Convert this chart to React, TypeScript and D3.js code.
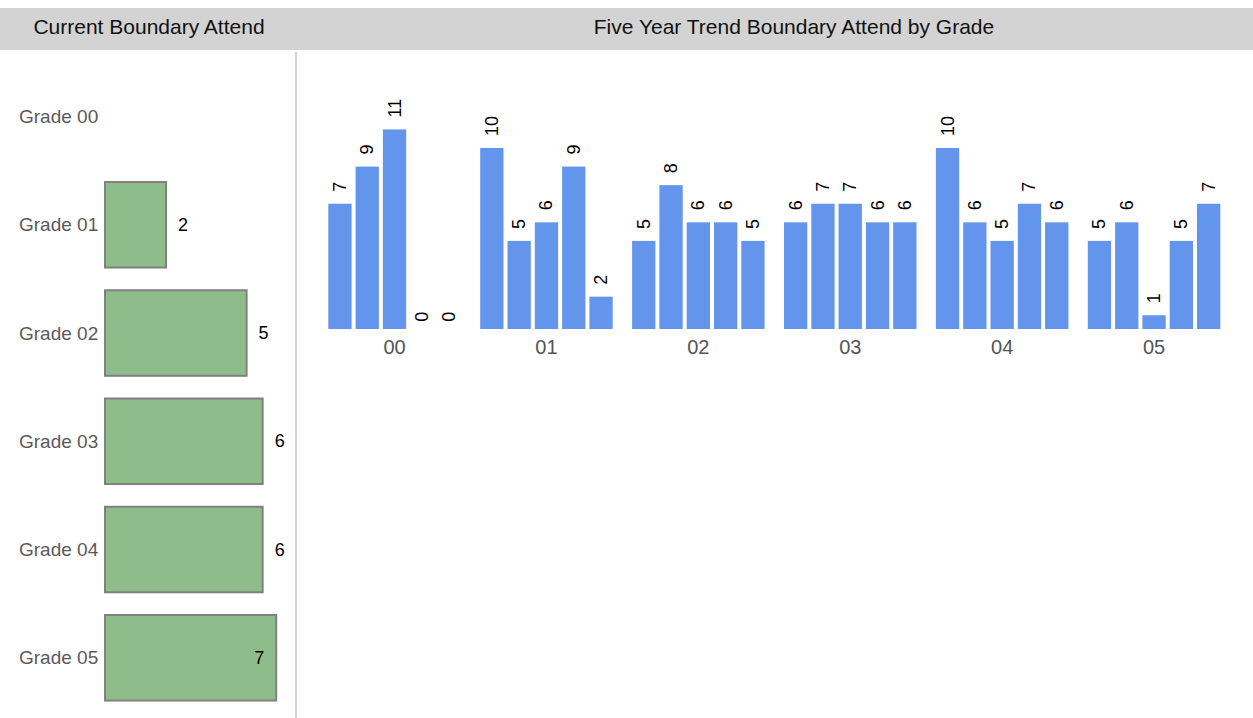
import React from "react";
import * as d3 from "d3";

const grades = ["Grade 00", "Grade 01", "Grade 02", "Grade 03", "Grade 04", "Grade 05"];
const currentValues = [0, 2, 5, 6, 6, 7];

const trendGroups = ["00", "01", "02", "03", "04", "05"];
const trendYears = ["Year 1", "Year 2", "Year 3", "Year 4", "Year 5"];
const trend00 = [7, 9, 11, 0, 0];
const trend01 = [10, 5, 6, 9, 2];
const trend02 = [5, 8, 6, 6, 5];
const trend03 = [6, 7, 7, 6, 6];
const trend04 = [10, 6, 5, 7, 6];
const trend05 = [5, 6, 1, 5, 7];
const trendValues = [trend00, trend01, trend02, trend03, trend04, trend05];

const W = 1253;
const H = 718;
const FONT = "Liberation Sans, Arial, sans-serif";

export default function App() {
  // Left panel scales
  const xLeft = d3.scaleLog().domain([1, 10]).range([105, 105 + 202.6]);
  const yLeft = d3
    .scaleBand<string>()
    .domain(grades)
    .range([62.4, 711.9])
    .paddingInner(0.21)
    .paddingOuter(0.105);

  // Right panel scales
  const x0 = d3.scaleBand<string>().domain(trendGroups).range([328.3, 328.3 + 6 * 151.9]).padding(0);
  const x1 = d3.scaleBand<string>().domain(trendYears).range([0, 132.5]).paddingInner(0.1465).paddingOuter(0);
  const baseY = 329;
  const yRight = d3.scaleLinear().domain([0.26, 11]).range([baseY, 129.4]);

  return (
    <svg
      width={W}
      height={H}
      style={{ position: "absolute", left: 0, top: 0, fontFamily: FONT }}
    >
      <rect x={0} y={0} width={W} height={H} fill="#ffffff" />
      {/* header band */}
      <rect x={0} y={8} width={W} height={42} fill="#d3d3d3" />
      <text x={149} y={26} textAnchor="middle" dominantBaseline="central" fontSize={21} fill="#111">
        Current Boundary Attend
      </text>
      <text x={794} y={26} textAnchor="middle" dominantBaseline="central" fontSize={21} fill="#111">
        Five Year Trend Boundary Attend by Grade
      </text>

      {/* divider */}
      <line x1={296} x2={296} y1={52} y2={H} stroke="#d3d3d3" strokeWidth={2} />

      {/* left panel */}
      {grades.map((g, i) => {
        const v = currentValues[i];
        const yb = yLeft(g)!;
        const bh = yLeft.bandwidth();
        const cy = yb + bh / 2;
        const hasBar = v > 0;
        const xEnd = hasBar ? xLeft(v) : 105;
        const labelW = String(v).length * 10;
        const inside = xEnd + 12 + labelW > 290;
        return (
          <g key={g}>
            <text x={19} y={cy} dominantBaseline="central" fontSize={19} fill="#5a5a5a">
              {g}
            </text>
            {hasBar && (
              <>
                <rect
                  x={xLeft(1)}
                  y={yb}
                  width={xEnd - xLeft(1)}
                  height={bh}
                  fill="#8fbc8b"
                  stroke="#808080"
                  strokeWidth={2}
                />
                <text
                  x={inside ? xEnd - 12 : xEnd + 12}
                  y={cy}
                  textAnchor={inside ? "end" : "start"}
                  dominantBaseline="central"
                  fontSize={18}
                  fill="#000"
                >
                  {v}
                </text>
              </>
            )}
          </g>
        );
      })}

      {/* right panel */}
      {trendGroups.map((grp, gi) => {
        const gx = x0(grp)!;
        return (
          <g key={grp} transform={`translate(${gx},0)`}>
            {trendYears.map((yr, yi) => {
              const v = trendValues[gi][yi];
              const bx = x1(yr)!;
              const bw = x1.bandwidth();
              const top = yRight(v);
              const h = Math.max(0, baseY - top);
              const lx = bx + bw / 2;
              const ly = top - 12;
              return (
                <g key={yr}>
                  {h > 0 && <rect x={bx} y={top} width={bw} height={h} fill="#6495ed" />}
                  <text
                    transform={`translate(${lx},${ly}) rotate(-90)`}
                    textAnchor="start"
                    dominantBaseline="central"
                    fontSize={18}
                    fill="#000"
                  >
                    {v}
                  </text>
                </g>
              );
            })}
            <text
              x={x1.range()[1] / 2}
              y={347}
              textAnchor="middle"
              dominantBaseline="central"
              fontSize={20}
              fill="#555"
            >
              {grp}
            </text>
          </g>
        );
      })}
    </svg>
  );
}
